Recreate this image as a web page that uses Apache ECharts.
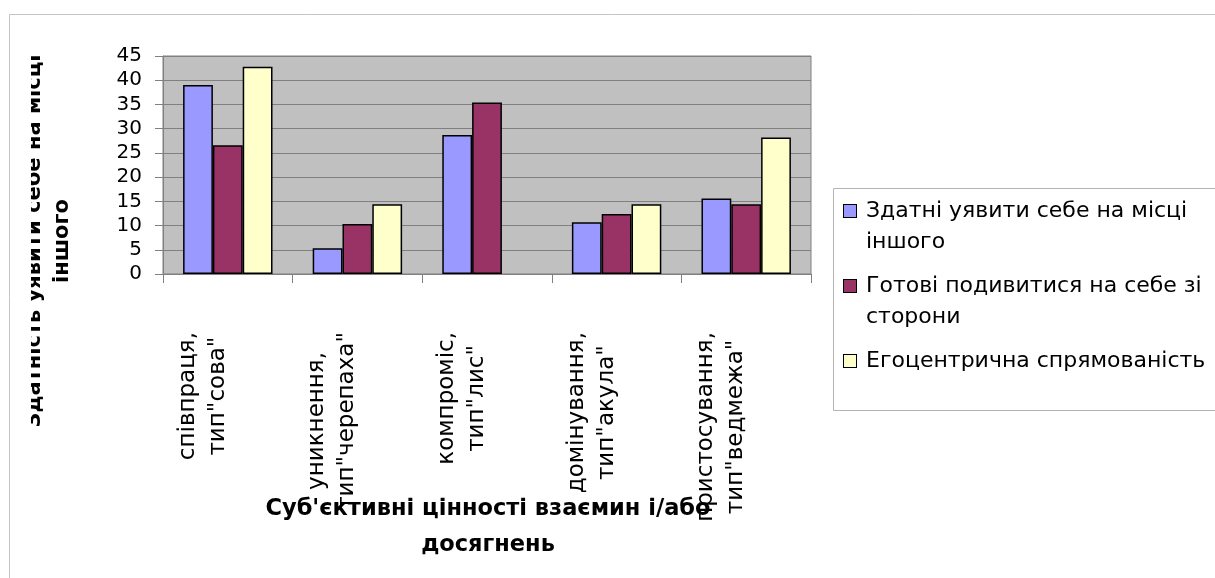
<!DOCTYPE html>
<html>
<head>
<meta charset="utf-8">
<script src="https://cdn.jsdelivr.net/npm/echarts@6/dist/echarts.min.js"></script>
<style>
  html, body { margin: 0; padding: 0; background: #ffffff; }
  #chart { width: 1215px; height: 578px; }
</style>
</head>
<body>
<div id="chart"></div>
<script>
// Conflict-resolution styles (categories) and three empathy indicators (series)
const categories = [
  'співпраця,\nтип"сова"',
  'уникнення,\nтип"черепаха"',
  'компроміс,\nтип"лис"',
  'домінування,\nтип"акула"',
  'пристосування,\nтип"ведмежа"'
];
const seriesNames = [
  'Здатні уявити себе на місці іншого',
  'Готові подивитися на себе зі сторони',
  'Егоцентрична спрямованість'
];
const imagineOther = [39.0, 5.3, 28.7, 10.7, 15.6];
const lookAtSelf   = [26.6, 10.3, 35.4, 12.4, 14.4];
const egocentric   = [42.8, 14.4, null, 14.4, 28.2];

// Value axis range and step
const yMin = 0;
const yMax = 45;
const yStep = 5;

// Axis titles and wrapped legend lines
const xTitle = "Суб'єктивні цінності взаємин і/або\nдосягнень";
const yTitle = 'Здатність уявити себе на місці\nіншого';
const legendLines = [
  ['Здатні уявити себе на місці', 'іншого'],
  ['Готові подивитися на себе зі', 'сторони'],
  ['Егоцентрична спрямованість']
];

const colors = ['#9999FF', '#993366', '#FFFFCC'];
const FONT = 'DejaVu Sans';

const chart = echarts.init(document.getElementById('chart'), null, { renderer: 'canvas' });

// Rich styles: a coloured square token per series, text tokens, and an indent for wrapped lines
const legendRich = {
  t: { fontFamily: FONT, fontSize: 22, lineHeight: 31, color: '#000', padding: [0, 0, 0, 10] },
  ind: { width: 12, height: 12 }
};
colors.forEach((c, i) => {
  legendRich['m' + i] = { width: 12, height: 12, backgroundColor: c, borderColor: '#000', borderWidth: 1 };
});

const seriesData = [imagineOther, lookAtSelf, egocentric];

const option = {
  animation: false,
  backgroundColor: '#ffffff',
  textStyle: { fontFamily: FONT },
  grid: {
    left: 163, top: 56, width: 648, height: 218,
    show: true, backgroundColor: '#C0C0C0', borderColor: '#808080', borderWidth: 1,
    outerBoundsMode: 'none'
  },
  xAxis: {
    type: 'category',
    data: categories,
    axisLine: { show: true, lineStyle: { color: '#808080', width: 1 } },
    axisTick: { show: true, length: 9, lineStyle: { color: '#808080' } },
    splitLine: { show: false },
    axisLabel: {
      interval: 0,
      rotate: 90,
      margin: 58,
      verticalAlign: 'middle',
      padding: [0, 0, 50, 0],
      color: '#000',
      formatter: v => v.split('\n').map(s => '{c|' + s + '}').join('\n'),
      rich: {
        c: { align: 'center', fontFamily: FONT, fontSize: 23, lineHeight: 30, color: '#000' }
      }
    }
  },
  yAxis: {
    type: 'value',
    min: yMin, max: yMax, interval: yStep,
    axisLine: { show: true, lineStyle: { color: '#808080', width: 1 } },
    axisTick: { show: true, length: 8, lineStyle: { color: '#808080' } },
    splitLine: { show: true, lineStyle: { color: '#808080', width: 1 } },
    axisLabel: { margin: 21, color: '#000', fontFamily: FONT, fontSize: 20 }
  },
  legend: {
    orient: 'vertical',
    left: 838, top: 200,
    padding: 0,
    itemGap: 22,
    itemWidth: 0, itemHeight: 0,
    itemStyle: { opacity: 0 },
    selectedMode: false,
    data: seriesNames,
    formatter: name => {
      const i = seriesNames.indexOf(name);
      const lines = legendLines[i];
      return lines.map((l, k) => (k === 0 ? '{m' + i + '|}' : '{ind|}') + '{t|' + l + '}').join('\n');
    },
    textStyle: { color: '#000', fontFamily: FONT, fontSize: 22, rich: legendRich }
  },
  series: seriesNames.map((name, i) => ({
    name,
    type: 'bar',
    data: seriesData[i],
    barGap: '0%',
    barCategoryGap: '31%',
    itemStyle: { color: colors[i], borderColor: '#000', borderWidth: 1.5 }
  })),
  graphic: [
    // outer chart frame
    { type: 'rect', z: -10, shape: { x: 9.5, y: 14.5, width: 1230, height: 620 },
      style: { fill: 'none', stroke: '#c4c4c4', lineWidth: 1 } },
    // legend frame
    { type: 'rect', z: -5, shape: { x: 833.5, y: 188.5, width: 420, height: 222 },
      style: { fill: 'none', stroke: '#b4b4b4', lineWidth: 1 } },
    // vertical axis title
    { type: 'text', z: 1, x: 48.5, y: 241, rotation: Math.PI / 2,
      style: { text: yTitle, fontFamily: FONT, fontSize: 21, fontWeight: 'bold', lineHeight: 28,
               align: 'center', verticalAlign: 'middle', fill: '#000' } },
    // white strip trimming the first title line at the frame's inner edge
    { type: 'rect', z: 2, shape: { x: 10, y: 20, width: 21, height: 440 },
      style: { fill: '#ffffff' } },
    // horizontal axis title
    { type: 'text', z: 1, x: 488, y: 491,
      style: { text: xTitle, fontFamily: FONT, fontSize: 22.5, fontWeight: 'bold', lineHeight: 36,
               align: 'center', verticalAlign: 'top', fill: '#000' } }
  ]
};

chart.setOption(option);
</script>
</body>
</html>
